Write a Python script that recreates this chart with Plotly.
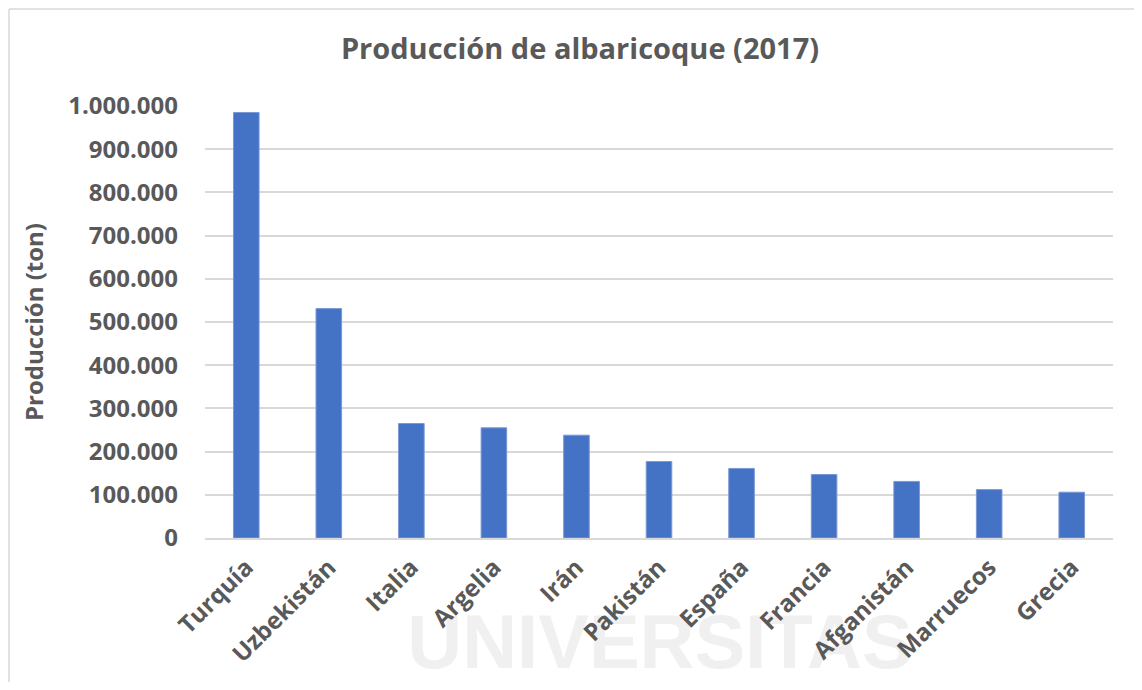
import plotly.graph_objects as go

paises = ["Turquía", "Uzbekistán", "Italia", "Argelia", "Irán", "Pakistán",
          "España", "Francia", "Afganistán", "Marruecos", "Grecia"]
produccion = [985000, 531000, 265000, 255000, 238000, 177000,
              161000, 147000, 131000, 112000, 106000]
y_ticks = [0, 100000, 200000, 300000, 400000, 500000, 600000, 700000, 800000, 900000, 1000000]

FONT = "Open Sans"
GREY = "#595959"

fig = go.Figure(go.Bar(
    x=paises, y=produccion,
    marker=dict(color="#4472C4", line=dict(color="#7a98d6", width=1)),
))

# page has an 8px body margin
OFF = 8
W, H = 1142 - 2 * OFF, 690 - 2 * OFF
L, T = 205 - OFF, 106 - OFF
R = 1142 - 1113 - OFF
B = (OFF + H) - 538
pw, ph = W - L - R, H - T - B

def px2x(px):
    return (px - OFF - L) / pw

def px2y(py):
    return (OFF + H - B - py) / ph

fig.update_layout(
    width=W, height=H,
    margin=dict(l=L, r=R, t=T, b=B),
    paper_bgcolor="white", plot_bgcolor="white",
    separators=",.",
    bargap=0.69,
    showlegend=False,
    title=dict(text="<b>Producción de albaricoque (2017)</b>",
               x=(580 - OFF) / W, xanchor="center", y=1 - (49 - OFF) / H, yanchor="middle",
               font=dict(family=FONT, size=29, color=GREY)),
    font=dict(family=FONT, color=GREY),
    shapes=[
        dict(type="line", xref="paper", yref="paper", x0=px2x(OFF + 1), x1=px2x(1142),
             y0=px2y(OFF + 1), y1=px2y(OFF + 1), line=dict(color="#d9d9d9", width=1.5), layer="below"),
        dict(type="line", xref="paper", yref="paper", x0=px2x(OFF + 1), x1=px2x(OFF + 1),
             y0=px2y(OFF + 1), y1=px2y(690), line=dict(color="#d9d9d9", width=1.5), layer="below"),
        dict(type="rect", xref="paper", yref="paper", x0=px2x(410), x1=px2x(910),
             y0=px2y(668), y1=px2y(600), line=dict(width=0), fillcolor="rgba(0,0,0,0)",
             layer="below",
             label=dict(text="<b>UNIVERSITAS</b>",
                        font=dict(family="Liberation Sans Narrow, Liberation Sans", size=76, color="#f0f0f0"),
                        textposition="middle center")),
    ],
)

fig.update_xaxes(
    tickangle=-45,
    tickfont=dict(family=FONT, size=24, color=GREY, weight="bold"),
    ticklabelstandoff=4,
    showgrid=False, showline=True, linecolor="#d9d9d9", linewidth=1.5,
    ticks="",
)
fig.update_yaxes(
    range=[0, 1000000],
    tickvals=y_ticks,
    tickformat=",d",
    tickfont=dict(family=FONT, size=24, color=GREY, weight="bold"),
    ticklabelstandoff=26,
    showgrid=True, gridcolor="#d9d9d9", gridwidth=1.5,
    zeroline=False, showline=False,
    title=dict(text="Producción (ton)", font=dict(family=FONT, size=24, color=GREY, weight="bold"),
               standoff=17),
)

fig.write_html("out.html")
